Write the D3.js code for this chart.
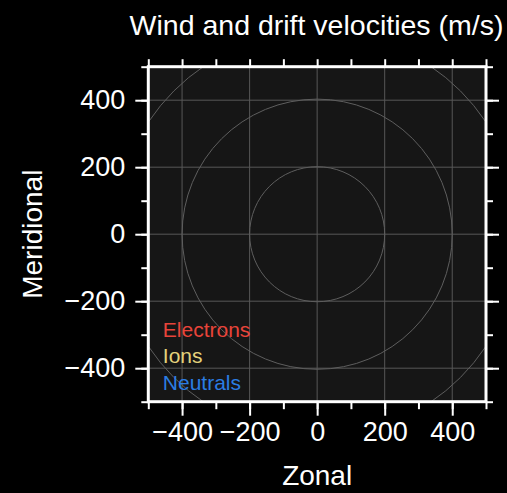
<!DOCTYPE html>
<html>
<head>
<meta charset="utf-8">
<script src="https://cdn.jsdelivr.net/npm/d3@7"></script>
<style>
  html, body { margin: 0; padding: 0; background: #000; }
  svg text { font-family: "Liberation Sans", Arial, Helvetica, sans-serif; }
</style>
</head>
<body>
<div id="chart"></div>
<script>
// Axis values
const majorTicks = [-400, -200, 0, 200, 400];
const minorTicks = [-500, -400, -300, -200, -100, 0, 100, 200, 300, 400, 500];
const gridValues = [-400, -200, 0, 200, 400];
const ringRadii = [200, 400, 600];
const legendNames = ['Electrons', 'Ions', 'Neutrals'];

const width = 507, height = 493;
const margin = { top: 66.7, right: 21, bottom: 91.3, left: 148.3 };
const innerWidth = width - margin.left - margin.right;
const innerHeight = height - margin.top - margin.bottom;

const x = d3.scaleLinear().domain([-500, 500]).range([0, innerWidth]);
const y = d3.scaleLinear().domain([-500, 500]).range([innerHeight, 0]);
const color = d3.scaleOrdinal().domain(legendNames).range(['#e8443a', '#e4d27c', '#2b7de3']);

const svg = d3.select('#chart').append('svg')
  .attr('width', width)
  .attr('height', height)
  .style('background', '#000');

const g = svg.append('g')
  .attr('transform', `translate(${margin.left}, ${margin.top})`);

// Plot background
g.append('rect')
  .attr('width', innerWidth)
  .attr('height', innerHeight)
  .attr('fill', '#161616');

g.append('clipPath').attr('id', 'clip')
  .append('rect').attr('width', innerWidth).attr('height', innerHeight);

// Grid lines
g.selectAll('.vgrid')
  .data(gridValues)
  .join('line')
  .attr('class', 'vgrid')
  .attr('x1', d => x(d)).attr('x2', d => x(d))
  .attr('y1', 0).attr('y2', innerHeight)
  .attr('stroke', '#575757').attr('stroke-width', 1);
g.selectAll('.hgrid')
  .data(gridValues)
  .join('line')
  .attr('class', 'hgrid')
  .attr('y1', d => y(d)).attr('y2', d => y(d))
  .attr('x1', 0).attr('x2', innerWidth)
  .attr('stroke', '#575757').attr('stroke-width', 1);

// Range rings
g.append('g').attr('clip-path', 'url(#clip)')
  .selectAll('circle')
  .data(ringRadii)
  .join('circle')
  .attr('cx', x(0))
  .attr('cy', y(0))
  .attr('r', d => x(d) - x(0))
  .attr('fill', 'none')
  .attr('stroke', '#5e5e5e')
  .attr('stroke-width', 1);

// Legend
g.selectAll('.legend')
  .data(legendNames)
  .join('text')
  .attr('class', 'legend')
  .attr('x', 14.5)
  .attr('y', (d, i) => innerHeight - 65 + i * 26.7)
  .attr('fill', d => color(d))
  .attr('font-size', 21)
  .text(d => d);

// Axes: minor ticks on all sides, labels + long ticks bottom and left
function styleAxis(sel) {
  sel.select('.domain').remove();
  sel.selectAll('line').attr('stroke', '#fff').attr('stroke-width', 2);
  sel.selectAll('text').attr('fill', '#fff').attr('font-size', 27);
}
function minorOnly(sel) {
  styleAxis(sel);
  sel.selectAll('text').remove();
}

const minorBottom = g.append('g').attr('transform', `translate(0, ${innerHeight})`)
  .call(d3.axisBottom(x).tickValues(minorTicks).tickSize(7.5));
const minorTop = g.append('g')
  .call(d3.axisTop(x).tickValues(minorTicks).tickSize(7.5));
const minorLeft = g.append('g')
  .call(d3.axisLeft(y).tickValues(minorTicks).tickSize(7));
const minorRight = g.append('g').attr('transform', `translate(${innerWidth}, 0)`)
  .call(d3.axisRight(y).tickValues(minorTicks).tickSize(7));
[minorBottom, minorTop, minorLeft, minorRight].forEach(minorOnly);

const xAxis = g.append('g').attr('transform', `translate(0, ${innerHeight})`)
  .call(d3.axisBottom(x).tickValues(majorTicks).tickSize(14).tickPadding(6));
const yAxis = g.append('g')
  .call(d3.axisLeft(y).tickValues(majorTicks).tickSize(13).tickPadding(10));
const rightAxis = g.append('g').attr('transform', `translate(${innerWidth}, 0)`)
  .call(d3.axisRight(y).tickValues(majorTicks).tickSize(13));
[xAxis, yAxis].forEach(styleAxis);
minorOnly(rightAxis);

// Frame
g.append('rect')
  .attr('width', innerWidth)
  .attr('height', innerHeight)
  .attr('fill', 'none')
  .attr('stroke', '#fff')
  .attr('stroke-width', 3);

// Title and axis labels
svg.append('text')
  .attr('x', 316.5)
  .attr('y', 35)
  .attr('text-anchor', 'middle')
  .attr('fill', '#fff')
  .attr('font-size', 28.5)
  .text('Wind and drift velocities (m/s)');

svg.append('text')
  .attr('x', margin.left + innerWidth / 2)
  .attr('y', 485)
  .attr('text-anchor', 'middle')
  .attr('fill', '#fff')
  .attr('font-size', 28)
  .text('Zonal');

svg.append('text')
  .attr('transform', `translate(42, ${margin.top + innerHeight / 2}) rotate(-90)`)
  .attr('text-anchor', 'middle')
  .attr('fill', '#fff')
  .attr('font-size', 28)
  .text('Meridional');
</script>
</body>
</html>
